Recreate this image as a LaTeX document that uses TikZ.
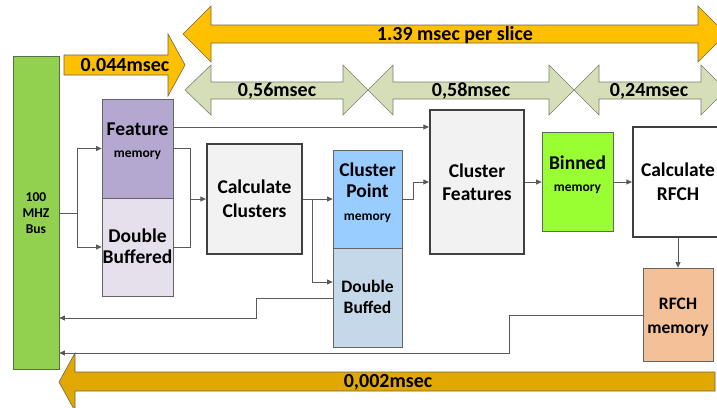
\documentclass[tikz,border=0pt]{standalone}
\usepackage{fontspec}
\setmainfont{Carlito}
\usetikzlibrary{arrows.meta,shadows}
\definecolor{busgreen}{RGB}{146,208,80}
\definecolor{busedge}{RGB}{90,110,70}
\definecolor{featpurple}{RGB}{180,167,208}
\definecolor{featlight}{RGB}{229,224,236}
\definecolor{cpblue}{RGB}{153,204,255}
\definecolor{cplight}{RGB}{197,216,234}
\definecolor{binlime}{RGB}{153,255,51}
\definecolor{rfchpeach}{RGB}{243,192,151}
\definecolor{procfill}{RGB}{242,242,242}
\definecolor{procedge}{RGB}{64,64,64}
\definecolor{memedge}{RGB}{100,100,100}
\definecolor{linegray}{RGB}{89,89,89}
\definecolor{amber}{RGB}{255,192,0}
\definecolor{darkamber}{RGB}{224,168,0}
\definecolor{sage}{RGB}{214,221,185}
\definecolor{sageedge}{RGB}{120,130,100}
\definecolor{arrowedge}{RGB}{110,100,70}
\tikzset{
  conn/.style={draw=linegray, line width=0.8pt},
  arr/.style={conn, -{Triangle[length=5.5pt,width=5pt]}},
  softshadow/.style={drop shadow={shadow xshift=1.2pt, shadow yshift=-1.2pt, opacity=0.25, fill=black}},
  memblk/.style={rectangle, draw=memedge, line width=0.8pt, inner sep=0pt, softshadow},
  procblk/.style={rectangle, draw=procedge, line width=2.2pt, inner sep=0pt, softshadow},
  bigtxt/.style={inner sep=0pt, anchor=base, font=\fontsize{19.5}{23}\selectfont\bfseries},
  smalltxt/.style={inner sep=0pt, anchor=base, font=\fontsize{13.5}{16}\selectfont\bfseries},
  midtxt/.style={inner sep=0pt, anchor=base, font=\fontsize{17.5}{21}\selectfont\bfseries},
  bustxt/.style={inner sep=0pt, anchor=base, font=\fontsize{13.5}{16}\selectfont\bfseries},
  timetxt/.style={inner sep=0pt, anchor=base, font=\fontsize{20}{24}\selectfont\bfseries},
  amberarrow/.style={fill=amber, draw=arrowedge, line width=0.6pt},
  sagearrow/.style={fill=sage, draw=sageedge, line width=0.6pt},
}
\begin{document}
\begin{tikzpicture}[x=1pt, y=-1pt]
\useasboundingbox (0,0) rectangle (717,407);
\clip (0,0) rectangle (717,407);

% timing arrows
\draw[amberarrow] (64,55) -- (168,55) -- (168,34) -- (185,65) -- (168,96) -- (168,75) -- (64,75) -- cycle;
\node[timetxt] (t044) at (125,71) {0.044msec};

\draw[amberarrow] (183,34) -- (211,6) -- (211,25) -- (698,25) -- (698,6) -- (726,34)
  -- (698,62) -- (698,43) -- (211,43) -- (211,62) -- cycle;
\node[timetxt] (t139) at (455,40) {1.39 msec per slice};

\draw[sagearrow] (185,90) -- (211,65) -- (211,82) -- (343,82) -- (343,65) -- (368,90)
  -- (343,115) -- (343,99) -- (211,99) -- (211,115) -- cycle;
\draw[sagearrow] (368,90) -- (393,65) -- (393,82) -- (549,82) -- (549,65) -- (574,90)
  -- (549,115) -- (549,99) -- (393,99) -- (393,115) -- cycle;
\draw[sagearrow] (574,90) -- (599,65) -- (599,82) -- (701,82) -- (701,65) -- (726,90)
  -- (701,115) -- (701,99) -- (599,99) -- (599,115) -- cycle;
\node[timetxt] (t056) at (277,96) {0,56msec};
\node[timetxt] (t058) at (471,96) {0,58msec};
\node[timetxt] (t024) at (649,96) {0,24msec};

\draw[amberarrow, fill=darkamber] (59,382) -- (75,353) -- (75,372) -- (715,372) -- (715,391)
  -- (75,391) -- (75,411) -- cycle;
\node[timetxt] (t002) at (388,387) {0,002msec};

% bus
\node[rectangle, fill=busgreen, draw=busedge, line width=0.8pt, minimum width=46pt,
  minimum height=313pt, inner sep=0pt, softshadow] (bus) at (36,212.5) {};
\node[bustxt] (busa) at (36,201) {100};
\node[bustxt] (busb) at (36,217) {MHZ};
\node[bustxt] (busc) at (36,233) {Bus};

% feature memory, double buffered
\node[memblk, fill=featpurple, minimum width=71pt, minimum height=99pt] (featA) at (137.5,148.5) {};
\node[memblk, fill=featlight, minimum width=71pt, minimum height=98pt] (featB) at (137.5,247) {};
\node[bigtxt] (featA1) at (137.5,135) {Feature};
\node[smalltxt] (featA2) at (137.5,157) {memory};
\node[bigtxt] (featB1) at (137.5,242) {Double};
\node[bigtxt] (featB2) at (137.5,263) {Buffered};

% calculate clusters
\node[procblk, fill=procfill, minimum width=95pt, minimum height=110pt] (calcC) at (254.5,199) {};
\node[bigtxt] (calcC1) at (254.5,193) {Calculate};
\node[bigtxt] (calcC2) at (254.5,217) {Clusters};

% cluster point memory, double buffed
\node[memblk, fill=cpblue, minimum width=69pt, minimum height=98pt] (cpA) at (367.5,199) {};
\node[memblk, fill=cplight, minimum width=69pt, minimum height=99pt] (cpB) at (367.5,297.5) {};
\node[bigtxt] (cpA1) at (367.5,176) {Cluster};
\node[bigtxt] (cpA2) at (367.5,197) {Point};
\node[smalltxt] (cpA3) at (367.5,220) {memory};
\node[midtxt] (cpB1) at (367.5,292) {Double};
\node[midtxt] (cpB2) at (367.5,313) {Buffed};

% cluster features
\node[procblk, fill=procfill, minimum width=94pt, minimum height=144pt] (cfeat) at (477,182) {};
\node[bigtxt] (cfeat1) at (477,177) {Cluster};
\node[bigtxt] (cfeat2) at (477,200) {Features};

% binned memory
\node[memblk, fill=binlime, minimum width=71pt, minimum height=99pt] (bin) at (577.5,181.5) {};
\node[bigtxt] (bin1) at (577.5,169) {Binned};
\node[smalltxt] (bin2) at (577.5,191) {memory};

% calculate RFCH
\node[procblk, fill=white, minimum width=90pt, minimum height=110pt] (rfch) at (678,182) {};
\node[bigtxt] (rfch1) at (678,176) {Calculate};
\node[bigtxt] (rfch2) at (678,200) {RFCH};

% RFCH memory
\node[memblk, fill=rfchpeach, minimum width=70pt, minimum height=93pt] (rmem) at (678,314.5) {};
\node[midtxt] (rmem1) at (678,309) {RFCH};
\node[midtxt] (rmem2) at (678,333) {memory};

% connectors
\coordinate (busout) at (bus.east |- 0,213);
\draw[conn] (busout) -- (77,213);
\draw[arr] (77,213) |- (featA.west);
\draw[arr] (77,213) |- (featB.west);

\draw[conn] (featA.east) -| (190,247) -- (featB.east |- 0,247);
\coordinate (fjoin) at (190,199);
\draw[arr] (fjoin) -- (calcC.west);

\draw[arr] (featA.east |- 0,127) -- (cfeat.west |- 0,127);

\draw[arr] (calcC.east) -- (cpA.west);
\coordinate (cjoin) at (312,199);
\draw[arr] (cjoin) |- (cpB.west |- 0,282);

\draw[arr] (cpA.east) -- (413,199) |- (cfeat.west);
\draw[arr] (cfeat.east) -- (bin.west |- cfeat.east);
\draw[arr] (bin.east |- rfch.west) -- (rfch.west);
\draw[arr] (rfch.south) -- (rmem.north);

\draw[arr] (cpB.west |- 0,298) -- (256,298) |- (bus.east |- 0,318);
\draw[arr] (rmem.west |- 0,315) -- (509,315) |- (bus.east |- 0,353);
\end{tikzpicture}
\end{document}
